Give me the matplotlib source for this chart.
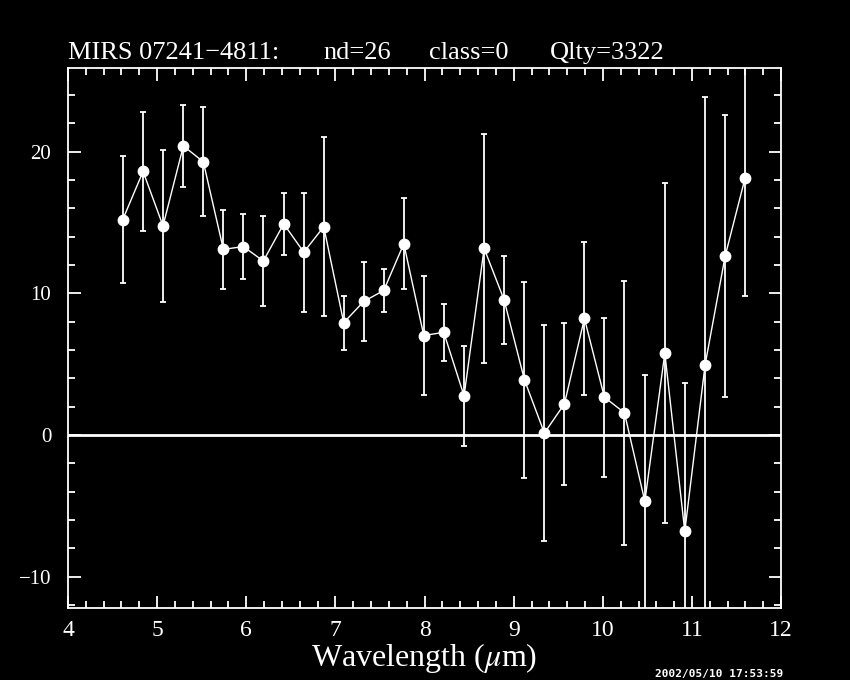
import matplotlib
matplotlib.use('Agg')
from matplotlib import pyplot as plt
from matplotlib.ticker import MultipleLocator

# spectrum
wave = [4.614, 4.842, 5.066, 5.294, 5.518, 5.743, 5.967, 6.191, 6.420, 6.645,
        6.869, 7.093, 7.318, 7.542, 7.767, 7.991, 8.215, 8.443, 8.668, 8.892,
        9.120, 9.344, 9.569, 9.793, 10.017, 10.242, 10.471, 10.695, 10.919,
        11.147, 11.372, 11.596]
flux = [15.2, 18.6, 14.76, 20.4, 19.28, 13.1, 13.3, 12.28, 14.9, 12.9,
        14.7, 7.93, 9.43, 10.2, 13.5, 7.02, 7.25, 2.76, 13.17, 9.54,
        3.9, 0.14, 2.2, 8.23, 2.67, 1.57, -4.68, 5.78, -6.8,
        4.96, 12.63, 18.15]
flux_err = [4.5, 4.2, 5.35, 2.9, 3.85, 2.8, 2.3, 3.2, 2.2, 4.2,
            6.3, 1.9, 2.8, 1.5, 3.2, 4.2, 2.0, 3.5, 8.1, 3.1,
            6.9, 7.6, 5.7, 5.4, 5.6, 9.3, 8.9, 12.0, 10.5,
            18.9, 9.95, 8.33]

# header pieces and where they start (pixels from the left)
title_parts = ['MIRS 07241\u22124811:', 'nd=26', 'class=0', 'Qlty=3322']
title_x = [68, 323, 429, 550]
stamp = '2002/05/10 17:53:59'

plt.rcParams['font.family'] = 'Liberation Serif'
plt.rcParams['mathtext.fontset'] = 'stix'

fig = plt.figure(figsize=(8.5, 6.8), dpi=100, facecolor='black')
ax = fig.add_axes([0.08, 0.106, 0.839, 0.794], facecolor='black')

ax.axhline(0, color='white', lw=2)
ax.errorbar(wave, flux, yerr=flux_err, fmt='o-', color='white', ms=7.5,
            lw=1, elinewidth=1.3, capsize=2.5, capthick=1.3)

ax.set_xlim(4, 12)
ax.set_ylim(-12.2, 25.9)
ax.xaxis.set_major_locator(MultipleLocator(1))
ax.xaxis.set_minor_locator(MultipleLocator(0.2))
ax.yaxis.set_major_locator(MultipleLocator(10))
ax.yaxis.set_minor_locator(MultipleLocator(2))

for s in ax.spines.values():
    s.set_color('white')
    s.set_linewidth(1.3)
ax.tick_params(which='both', direction='in', top=True, right=True,
               colors='white', width=1.3)
ax.tick_params(which='major', length=9)
ax.tick_params(which='minor', length=5)
ax.tick_params(axis='x', labelsize=17, pad=9)
ax.tick_params(axis='y', labelsize=15, pad=12)
for lab in ax.get_xticklabels() + ax.get_yticklabels():
    lab.set_color('white')

ax.set_xlabel(r'Wavelength ($\mu$m)', color='white', fontsize=23, labelpad=0)

for txt, px in zip(title_parts, title_x):
    fig.text(px / 850, 1 - 59 / 680, txt, color='white', fontsize=19,
             va='baseline', ha='left')
fig.text(655 / 850, 1 - 669 / 680, stamp, color='white', fontsize=8,
         family='DejaVu Sans Mono', weight='bold', va='top', ha='left')

fig.savefig('out.png', facecolor='black')
